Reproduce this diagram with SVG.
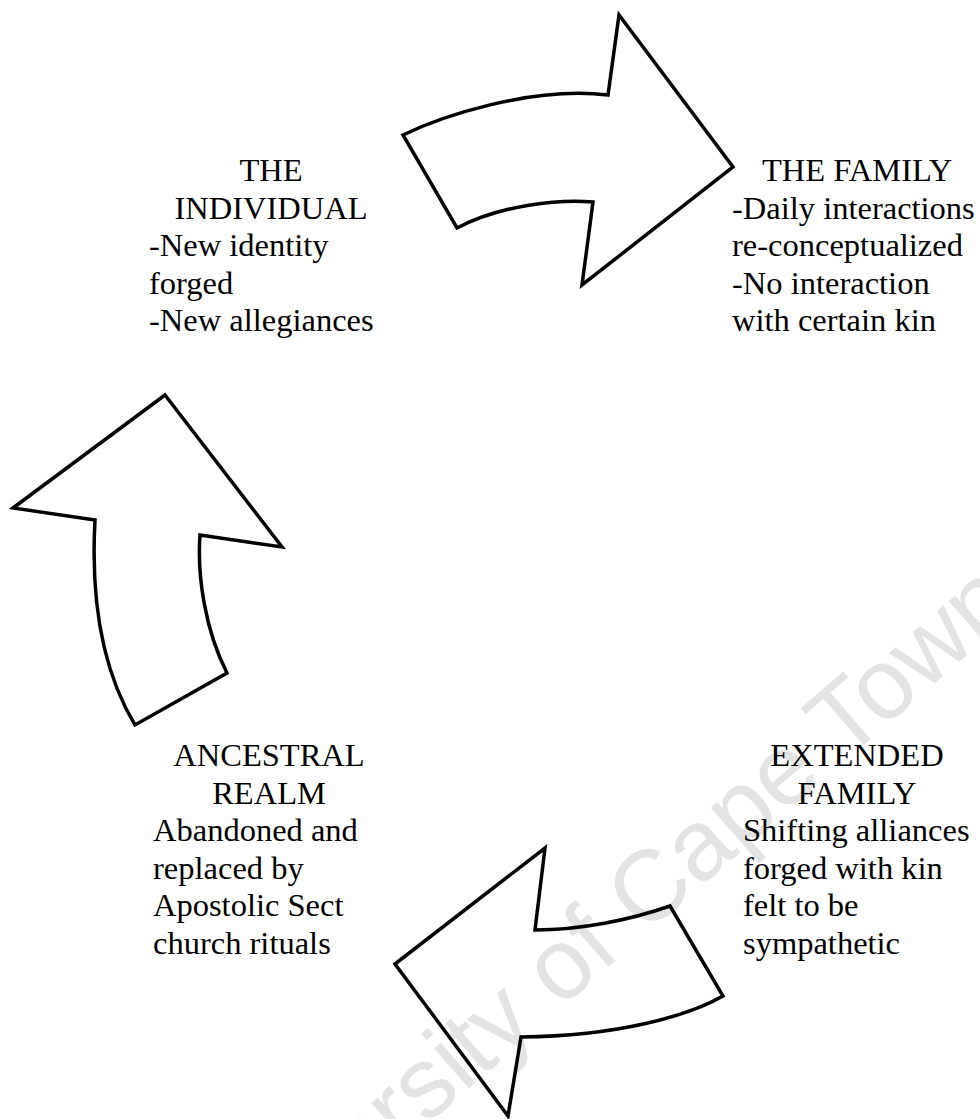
<svg xmlns="http://www.w3.org/2000/svg" width="980" height="1119" viewBox="0 0 980 1119">
<style>
.arrow{fill:none;stroke:#000;stroke-width:3.5;stroke-linejoin:miter}
.t{font-family:"Liberation Serif","Times New Roman",serif;font-size:32.5px;fill:#000}
.h{text-anchor:middle}
.wm{font-family:"Liberation Sans",Arial,sans-serif;font-size:100px;fill:#e4e4e4}
</style>
<rect width="980" height="1119" fill="#fff"/>
<text class="wm" transform="translate(614,962) rotate(-41)" text-anchor="middle">University of Cape Town</text>
<g id="connectors">
<path id="arrow-top" class="arrow" d="M403,135 C440,117 530,86 608,95 L619,15 L733,167 L582,285 L593,202 C560,199 500,205 457,228 Z"/>
<path id="arrow-bottom" class="arrow" d="M395,964 L545,848 L535,930 C580,930 630,920 670,906 L723,996 C690,1015 620,1036 521,1037 L508,1116 Z"/>
<path id="arrow-left" class="arrow" d="M165,395 L282,547 L200,535 C197,575 205,630 227,673 L135,725 C105,675 90,610 95,520 L13,508 Z"/>
</g>
<g id="individual">
<text class="t h" x="271" y="181">THE</text>
<text class="t h" x="271" y="218.5">INDIVIDUAL</text>
<text class="t" x="149" y="256">-New identity</text>
<text class="t" x="149" y="293.5">forged</text>
<text class="t" x="149" y="331">-New allegiances</text>
</g>
<g id="family">
<text class="t h" x="857" y="181">THE FAMILY</text>
<text class="t" x="732" y="218.5">-Daily interactions</text>
<text class="t" x="732" y="256">re-conceptualized</text>
<text class="t" x="732" y="293.5">-No interaction</text>
<text class="t" x="732" y="331">with certain kin</text>
</g>
<g id="ancestral">
<text class="t h" x="269" y="766">ANCESTRAL</text>
<text class="t h" x="269" y="803.5">REALM</text>
<text class="t" x="153" y="841">Abandoned and</text>
<text class="t" x="153" y="878.5">replaced by</text>
<text class="t" x="153" y="916">Apostolic Sect</text>
<text class="t" x="153" y="953.5">church rituals</text>
</g>
<g id="extended">
<text class="t h" x="857" y="766">EXTENDED</text>
<text class="t h" x="857" y="803.5">FAMILY</text>
<text class="t" x="743" y="841">Shifting alliances</text>
<text class="t" x="743" y="878.5">forged with kin</text>
<text class="t" x="743" y="916">felt to be</text>
<text class="t" x="743" y="953.5">sympathetic</text>
</g>
</svg>
